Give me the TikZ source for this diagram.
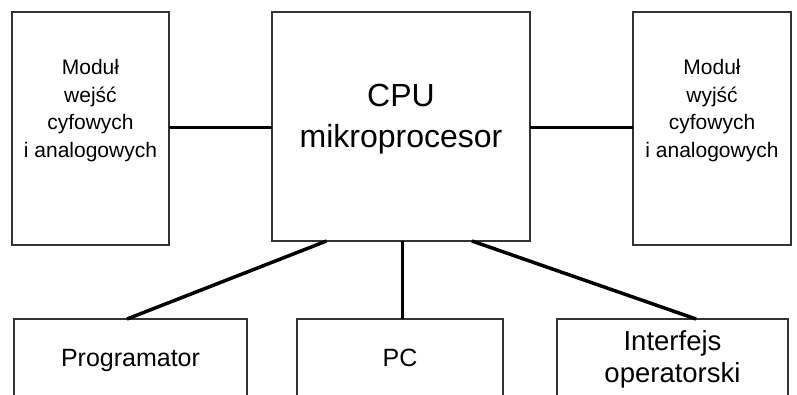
\documentclass[tikz,border=0pt]{standalone}
\usepackage{fontspec}
\setmainfont{Liberation Sans}
\begin{document}
\begin{tikzpicture}[x=1pt,y=-1pt,
  blk/.style={draw=black!80,line width=1.1pt,fill=white},
  conn/.style={draw=black,line width=3.5pt},
  modtext/.style={align=center,anchor=base,font=\fontsize{21}{27.5}\selectfont},
  cputext/.style={align=center,anchor=base,font=\fontsize{32}{41}\selectfont},
  bottext/.style={align=center,anchor=base,font=\fontsize{25}{32}\selectfont}]
\useasboundingbox (0,0) rectangle (797,394);
\clip (0,0) rectangle (797,394);
\fill[white] (0,0) rectangle (797,394);
% boxes
\draw[blk] (12,12) rectangle (169,245);
\node[inner sep=0pt,minimum width=157pt,minimum height=233pt] (inmod) at (90.5,128.5) {};
\draw[blk] (272,12) rectangle (530,241);
\node[inner sep=0pt,minimum width=258pt,minimum height=229pt] (cpu) at (401,126.5) {};
\draw[blk] (633,12) rectangle (791,245);
\node[inner sep=0pt,minimum width=158pt,minimum height=233pt] (outmod) at (712,128.5) {};
\draw[blk] (14,319) rectangle (247,420);
\node[inner sep=0pt,minimum width=233pt,minimum height=101pt] (prog) at (130.5,369.5) {};
\draw[blk] (297,319) rectangle (503,420);
\node[inner sep=0pt,minimum width=206pt,minimum height=101pt] (pc) at (400,369.5) {};
\draw[blk] (557,319) rectangle (788,420);
\node[inner sep=0pt,minimum width=231pt,minimum height=101pt] (intf) at (672.5,369.5) {};
% connector endpoints
\coordinate (cpuL) at (cpu.west |- 0,127.5);
\coordinate (cpuR) at (cpu.east |- 0,127.5);
\coordinate (cpuB1) at (326.5,241);
\coordinate (cpuB2) at (402.5,241);
\coordinate (cpuB3) at (472,241);
\coordinate (progT) at (127,319);
\coordinate (pcT) at (402.5,319);
\coordinate (intfT) at (696,319);
\draw[conn] (inmod.east |- cpuL) -- (cpuL);
\draw[conn] (cpuR) -- (outmod.west |- cpuR);
\draw[conn] (cpuB1) -- (progT);
\draw[conn] (cpuB2) -- (pcT);
\draw[conn] (cpuB3) -- (intfT);
% texts (base = last line's baseline)
\node[modtext] (t1) at (90.5,157) {Moduł\\wejść\\cyfowych\\i analogowych};
\node[modtext] (t2) at (712,157) {Moduł\\wyjść\\cyfowych\\i analogowych};
\node[cputext] (t3) at (401,147) {CPU\\mikroprocesor};
\node[bottext] (t4) at (130.5,366) {Programator};
\node[bottext] (t5) at (400,366) {PC};
\node[align=center,anchor=base,font=\fontsize{27.5}{32}\selectfont] (t6) at (672.5,382) {Interfejs\\operatorski};
\end{tikzpicture}
\end{document}
